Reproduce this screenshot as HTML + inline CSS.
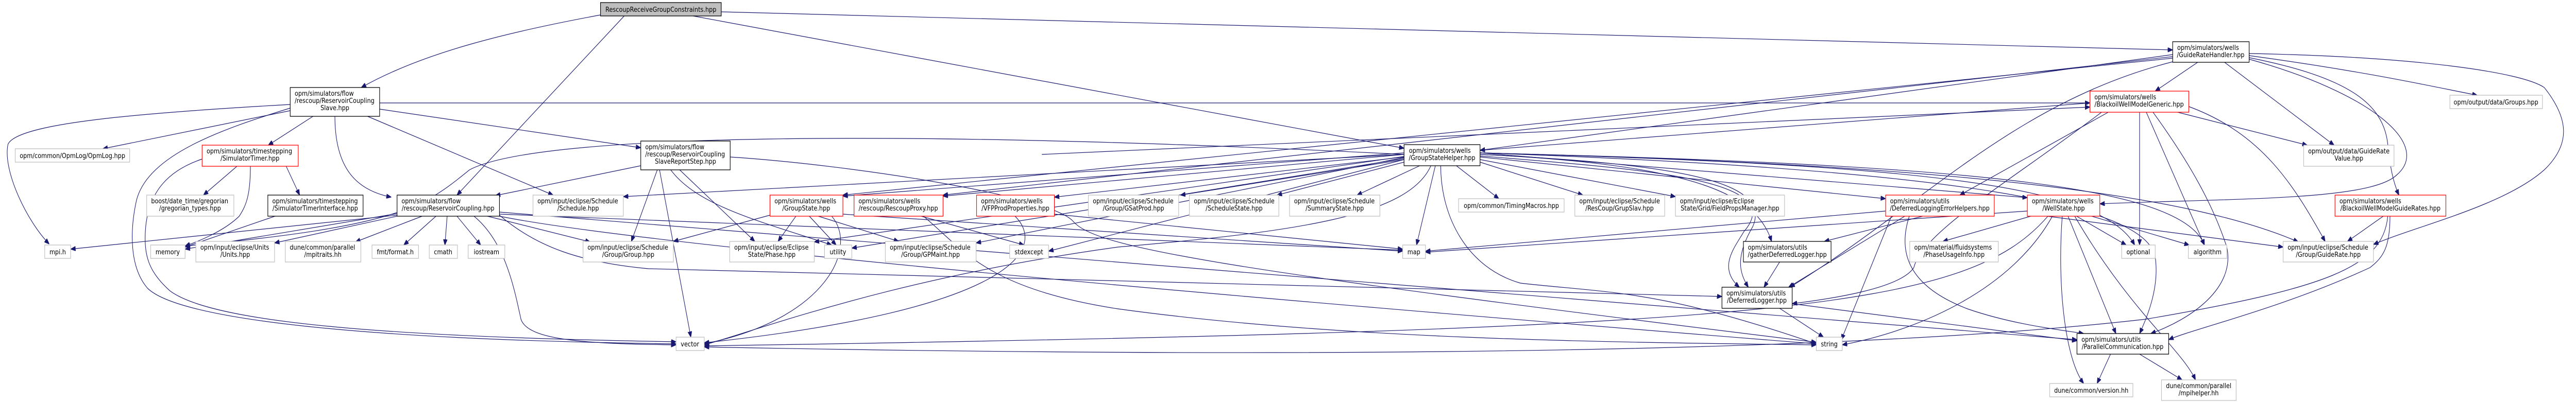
<!DOCTYPE html>
<html><head><meta charset="utf-8"><style>
html,body{margin:0;padding:0;background:#fff;width:100%;height:100%;overflow:hidden;}
svg{display:block;width:100vw;height:100vh;}
text{font-family:"DejaVu Sans","Liberation Sans",sans-serif;font-size:13px;fill:#000;}
.m{text-anchor:middle;}
rect{fill:#fff;stroke-width:1.3;}
.k{stroke:#000;}
.g{stroke:#bfbfbf;}
.r{stroke:#ff0000;}
.root{fill:#bfbfbf;stroke:#000;}
#edges path{fill:none;stroke:#191970;stroke-width:1.2;}
</style></head><body>
<svg id="sv" viewBox="0 0 5761 781" preserveAspectRatio="none" xmlns="http://www.w3.org/2000/svg">
<defs><marker id="a" viewBox="0 0 10 8" refX="10" refY="4" markerWidth="11" markerHeight="9" markerUnits="userSpaceOnUse" orient="auto"><path d="M0,0 L10,4 L0,8 z" fill="#191970" stroke="#191970"/></marker></defs>
<g id="edges"></g>
<g id="nodes">
<rect class="root" x="1343" y="5" width="270" height="26"/><text class="m" x="1478" y="23">RescoupReceiveGroupConstraints.hpp</text>
<rect class="k" x="649" y="170" width="200" height="56"/><text x="659" y="186">opm/simulators/flow</text><text x="659" y="200">/rescoup/ReservoirCoupling</text><text class="m" x="749" y="214">Slave.hpp</text>
<rect class="g" x="34" y="289" width="256" height="26"/><text class="m" x="162" y="307">opm/common/OpmLog/OpmLog.hpp</text>
<rect class="r" x="452" y="282" width="215" height="41"/><text x="462" y="298">opm/simulators/timestepping</text><text class="m" x="559" y="312">/SimulatorTimer.hpp</text>
<rect class="g" x="328" y="379" width="195" height="41"/><text x="338" y="395">boost/date_time/gregorian</text><text class="m" x="425" y="409">/gregorian_types.hpp</text>
<rect class="k" x="599" y="379" width="213" height="41"/><text x="609" y="395">opm/simulators/timestepping</text><text class="m" x="705" y="409">/SimulatorTimerInterface.hpp</text>
<rect class="k" x="888" y="379" width="229" height="41"/><text x="898" y="395">opm/simulators/flow</text><text class="m" x="1002" y="409">/rescoup/ReservoirCoupling.hpp</text>
<rect class="g" x="1192" y="379" width="202" height="41"/><text x="1202" y="395">opm/input/eclipse/Schedule</text><text class="m" x="1293" y="409">/Schedule.hpp</text>
<rect class="g" x="100" y="476" width="58" height="26"/><text class="m" x="129" y="494">mpi.h</text>
<rect class="g" x="337" y="476" width="77" height="26"/><text class="m" x="375" y="494">memory</text>
<rect class="g" x="438" y="469" width="176" height="40"/><text x="448" y="485">opm/input/eclipse/Units</text><text class="m" x="526" y="499">/Units.hpp</text>
<rect class="g" x="638" y="469" width="169" height="40"/><text x="648" y="485">dune/common/parallel</text><text class="m" x="722" y="499">/mpitraits.hh</text>
<rect class="g" x="832" y="476" width="104" height="26"/><text class="m" x="884" y="494">fmt/format.h</text>
<rect class="g" x="960" y="476" width="63" height="26"/><text class="m" x="991" y="494">cmath</text>
<rect class="g" x="1047" y="476" width="82" height="26"/><text class="m" x="1088" y="494">iostream</text>
<rect class="g" x="1304" y="469" width="202" height="40"/><text x="1314" y="485">opm/input/eclipse/Schedule</text><text class="m" x="1405" y="499">/Group/Group.hpp</text>
<rect class="k" x="1433" y="274" width="200" height="56"/><text x="1443" y="290">opm/simulators/flow</text><text x="1443" y="304">/rescoup/ReservoirCoupling</text><text class="m" x="1533" y="318">SlaveReportStep.hpp</text>
<rect class="r" x="1722" y="379" width="163" height="41"/><text x="1732" y="395">opm/simulators/wells</text><text class="m" x="1803" y="409">/GroupState.hpp</text>
<rect class="r" x="1910" y="379" width="199" height="41"/><text x="1920" y="395">opm/simulators/wells</text><text class="m" x="2009" y="409">/rescoup/RescoupProxy.hpp</text>
<rect class="r" x="2184" y="379" width="174" height="41"/><text x="2194" y="395">opm/simulators/wells</text><text class="m" x="2271" y="409">/VFPProdProperties.hpp</text>
<rect class="g" x="2434" y="379" width="202" height="41"/><text x="2444" y="395">opm/input/eclipse/Schedule</text><text class="m" x="2535" y="409">/Group/GSatProd.hpp</text>
<rect class="g" x="2660" y="379" width="200" height="41"/><text x="2670" y="395">opm/input/eclipse/Schedule</text><text class="m" x="2760" y="409">/ScheduleState.hpp</text>
<rect class="g" x="2884" y="379" width="202" height="41"/><text x="2894" y="395">opm/input/eclipse/Schedule</text><text class="m" x="2985" y="409">/SummaryState.hpp</text>
<rect class="k" x="3140" y="281" width="170" height="41"/><text x="3151" y="297">opm/simulators/wells</text><text class="m" x="3225" y="311">/GroupStateHelper.hpp</text>
<rect class="g" x="3262" y="386" width="236" height="26"/><text class="m" x="3380" y="404">opm/common/TimingMacros.hpp</text>
<rect class="g" x="3522" y="379" width="201" height="41"/><text x="3532" y="395">opm/input/eclipse/Schedule</text><text class="m" x="3622" y="409">/ResCoup/GrupSlav.hpp</text>
<rect class="g" x="3747" y="379" width="244" height="41"/><text x="3757" y="395">opm/input/eclipse/Eclipse</text><text class="m" x="3869" y="409">State/Grid/FieldPropsManager.hpp</text>
<rect class="r" x="4217" y="379" width="243" height="41"/><text x="4227" y="395">opm/simulators/utils</text><text class="m" x="4338" y="409">/DeferredLoggingErrorHelpers.hpp</text>
<rect class="r" x="4534" y="379" width="162" height="41"/><text x="4544" y="395">opm/simulators/wells</text><text class="m" x="4615" y="409">/WellState.hpp</text>
<rect class="r" x="5222" y="379" width="248" height="41"/><text x="5232" y="395">opm/simulators/wells</text><text class="m" x="5346" y="409">/BlackoilWellModelGuideRates.hpp</text>
<rect class="g" x="1632" y="469" width="189" height="40"/><text x="1642" y="485">opm/input/eclipse/Eclipse</text><text class="m" x="1726" y="499">State/Phase.hpp</text>
<rect class="g" x="1844" y="476" width="61" height="26"/><text class="m" x="1874" y="494">utility</text>
<rect class="g" x="1980" y="469" width="203" height="40"/><text x="1990" y="485">opm/input/eclipse/Schedule</text><text class="m" x="2081" y="499">/Group/GPMaint.hpp</text>
<rect class="g" x="2258" y="476" width="87" height="26"/><text class="m" x="2301" y="494">stdexcept</text>
<rect class="g" x="3137" y="476" width="51" height="26"/><text class="m" x="3162" y="494">map</text>
<rect class="k" x="3899" y="469" width="196" height="40"/><text x="3909" y="485">opm/simulators/utils</text><text class="m" x="3997" y="499">/gatherDeferredLogger.hpp</text>
<rect class="g" x="4271" y="469" width="198" height="40"/><text x="4281" y="485">opm/material/fluidsystems</text><text class="m" x="4370" y="499">/PhaseUsageInfo.hpp</text>
<rect class="g" x="4745" y="476" width="75" height="26"/><text class="m" x="4782" y="494">optional</text>
<rect class="g" x="4894" y="476" width="86" height="26"/><text class="m" x="4937" y="494">algorithm</text>
<rect class="g" x="5106" y="469" width="202" height="40"/><text x="5116" y="485">opm/input/eclipse/Schedule</text><text class="m" x="5207" y="499">/Group/GuideRate.hpp</text>
<rect class="g" x="1512" y="655" width="63" height="26"/><text class="m" x="1543" y="673">vector</text>
<rect class="k" x="3851" y="558" width="157" height="41"/><text x="3861" y="574">opm/simulators/utils</text><text class="m" x="3929" y="588">/DeferredLogger.hpp</text>
<rect class="g" x="4062" y="655" width="58" height="26"/><text class="m" x="4091" y="673">string</text>
<rect class="k" x="4645" y="648" width="205" height="40"/><text x="4655" y="664">opm/simulators/utils</text><text class="m" x="4747" y="678">/ParallelCommunication.hpp</text>
<rect class="g" x="4584" y="745" width="186" height="26"/><text class="m" x="4677" y="763">dune/common/version.hh</text>
<rect class="g" x="4834" y="738" width="167" height="40"/><text x="4844" y="754">dune/common/parallel</text><text class="m" x="4917" y="768">/mpihelper.hh</text>
<rect class="k" x="4859" y="81" width="171" height="40"/><text x="4869" y="97">opm/simulators/wells</text><text class="m" x="4944" y="111">/GuideRateHandler.hpp</text>
<rect class="r" x="4674" y="177" width="221" height="41"/><text x="4684" y="193">opm/simulators/wells</text><text class="m" x="4784" y="207">/BlackoilWellModelGeneric.hpp</text>
<rect class="g" x="5479" y="185" width="207" height="26"/><text class="m" x="5582" y="203">opm/output/data/Groups.hpp</text>
<rect class="g" x="5152" y="282" width="202" height="41"/><text x="5162" y="298">opm/output/data/GuideRate</text><text class="m" x="5253" y="312">Value.hpp</text>
</g>
</svg>
<script>
var E=[
"M1343,29 C1150,60 950,100 808,170",[1396,31,1022,379],[1550,31,3140,288],[1613,23,4859,97],
"M649,203 C300,220 40,240 18,280 C5,330 60,430 110,474",[649,215,230,289],[700,226,600,282],
"M749,226 C749,330 800,370 875,383",[822,226,1237,379],[849,212,1433,287],[849,200,4674,200],
"M649,210 C500,250 330,300 305,390 C290,450 290,520 330,560 C400,620 800,660 1512,668",
"M452,309 C380,330 330,370 325,450 C322,500 335,530 380,565 C480,630 900,655 1512,664",
[530,323,455,379],[640,323,670,379],"M560,323 C560,380 550,400 535,420 C500,450 440,470 414,478",
[615,420,414,480],[888,415,414,484],[888,420,614,472],[944,420,795,470],[975,420,903,476],
[1000,420,995,476],[1022,420,1075,476],[1090,420,1320,470],[888,418,158,484],
"M1060,420 C1130,470 1150,560 1165,620 C1180,660 1300,668 1512,670",
[1117,416,3137,486],"M1117,418 C1200,480 1300,510 1450,522 L3851,576","M1117,420 C1400,470 2500,560 4062,668",
[1117,412,4645,660],
[1433,322,1108,380],[1470,330,1412,469],[1520,330,1688,469],"M1500,330 C1560,400 1700,430 1860,476",
[1475,330,1545,655],"M1633,305 C1900,320 2350,380 2400,430 C2450,480 2700,520 4062,665",
[1722,418,1506,469],[1780,420,1740,469],[1810,420,1870,476],[1830,420,2010,469],
"M1860,420 C1920,480 1850,620 1575,668",[1885,416,3137,488],
[2060,420,2290,476],"M2065,420 C2150,480 2200,560 2500,600 C3000,660 3600,665 4062,670",
"M2270,420 C2340,480 2280,600 1575,666",[2358,416,3137,484],
[3140,300,1394,382],[3140,297,1885,381],[3140,300,2109,381],[3140,305,2358,383],[3140,310,2640,379],
[3140,315,2856,379],[3175,322,3035,379],[3257,322,3352,386],[3310,315,3540,379],[3310,310,3747,382],
[3310,305,4217,386],[3210,322,3168,476],
"M3222,322 C3222,420 3280,520 3400,550 C3600,570 3700,560 4062,668",
"M3200,322 C3150,420 2900,450 2500,480 C2000,540 1700,640 1575,670",
"M3310,303 C3700,330 4000,350 3900,450 C3880,480 3840,520 3890,558",
"M3310,300 C3800,320 3960,360 3920,440 C3880,500 3890,530 3910,558",
"M3310,300 C3800,320 3930,380 3962,469",[3310,297,4534,384],
"M3310,297 C4300,320 4700,360 4774,476","M3310,297 C4400,320 4880,360 4930,476",
"M3310,297 C4400,320 4900,380 5140,470","M3310,297 C4400,330 4800,400 4820,500 C4830,560 4800,620 4785,648",
"M3140,300 C2000,250 1200,260 1050,330 C950,400 900,440 414,478",
[3140,304,1821,470],[3140,306,2183,472],[3140,308,1905,482],[3140,310,2345,488],
[4300,420,4080,469],[4260,420,4000,558],[4230,420,4118,660],
"M4270,420 C4240,500 4280,560 4400,600 C4500,630 4600,640 4660,648",[4217,410,3188,488],
[3980,509,3945,558],[3980,599,4078,655],[4008,590,4645,662],
[4859,106,3310,292],[4915,121,4820,177],[4975,121,5220,282],"M5030,108 C5300,140 5450,170 5540,185",
"M5030,104 C5400,110 5640,140 5690,170 C5745,230 5750,280 5690,330 C5600,400 5400,440 5308,475",
"M5030,112 C5250,150 5330,200 5340,280 C5345,320 5350,350 5365,379",
"M5030,115 C5300,180 5440,280 5360,340 C5300,390 5000,385 4696,396",
"M4859,120 C4500,200 4300,400 4003,558",[4859,110,2109,379],[4859,113,1885,379],
[4674,200,3310,292],[4715,218,4383,379],"M4700,218 C4500,350 4300,450 4280,520 C4250,560 4100,580 4008,590",
[4785,218,4785,476],[4800,218,4930,476],
"M4815,218 C4900,320 4950,400 4980,480 C5000,560 4900,620 4810,648",[4870,218,5160,282],
"M4895,207 C5060,260 5130,360 5200,469",
[4550,418,4345,469],[4640,418,4755,476],[4670,418,4896,476],[4625,420,4732,648],
"M4612,420 C4600,560 4620,700 4660,745","M4640,420 C4760,600 4880,680 4910,738",
"M4590,420 C4500,560 4300,640 4120,670","M4580,420 C4400,600 4000,640 1575,672",
[4534,410,3188,490],[4534,415,5106,480],
[4720,688,4690,745],[4785,688,4880,738],[5330,420,5250,469],
"M5345,420 C5345,480 5330,500 5300,520 C5100,600 4900,640 4850,660",
"M5340,420 C5330,520 5200,560 4800,620 C4000,700 2500,690 1575,674",
[2330,300,4674,208]
];
var g=document.getElementById('edges'),ns='http://www.w3.org/2000/svg';
E.forEach(function(e){var p=document.createElementNS(ns,'path');
p.setAttribute('d',typeof e==='string'?e:('M'+e[0]+','+e[1]+' L'+e[2]+','+e[3]));
p.setAttribute('marker-end','url(#a)');g.appendChild(p);});
</script>
</body></html>
